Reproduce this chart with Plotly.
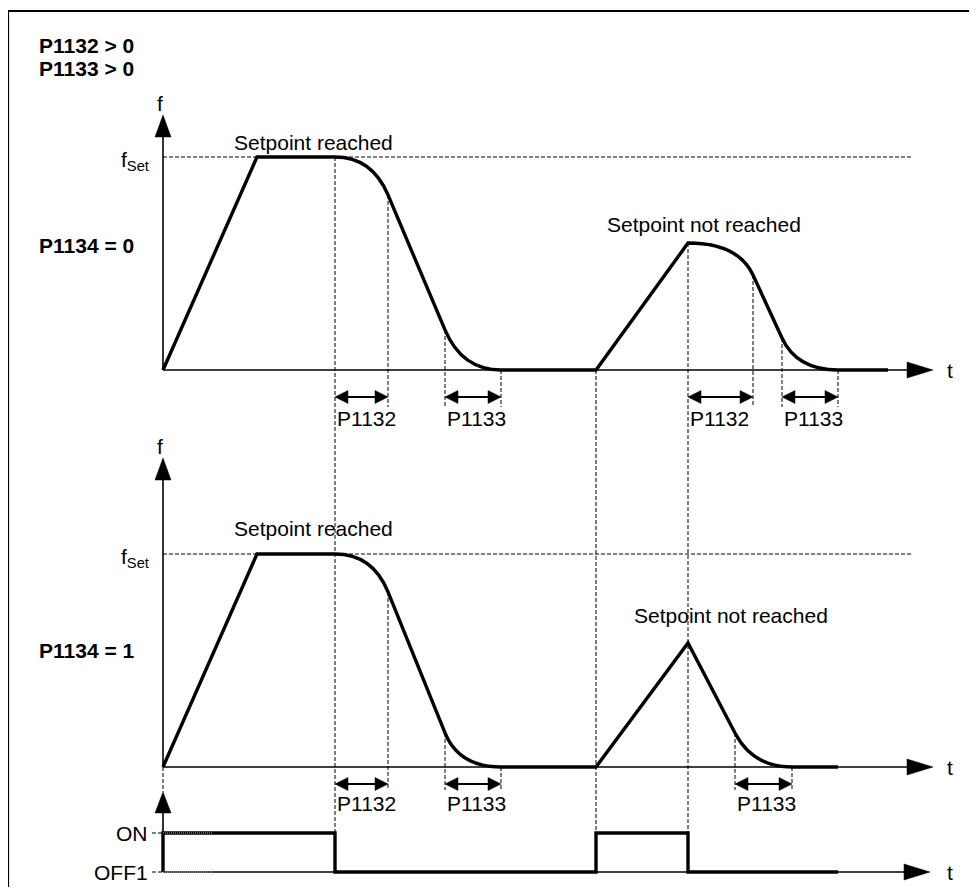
import plotly.graph_objects as go

OFS = 8  # page body margin: reference pixel p is drawn at figure pixel p - OFS
W, H = 977 - 2 * OFS, 895 - 2 * OFS  # keep the page free of scrollbars

# ---------------- data ----------------
# time knots (arbitrary time units) and normalised frequency f/fSet
top_t = [0, 9.4, 17.2, 22.5, 28.2, 33.8, 43.3, 52.5, 59.0, 61.9, 67.5, 72.5]
top_f = [0, 1.0, 1.0, 0.822, 0.188, 0, 0, 0.596, 0.446, 0.150, 0, 0]
top_seg = ['L', 'L', 'R0', 'L', 'R1', 'L', 'L', 'R0', 'L', 'R1', 'L']

bot_t = [0, 9.4, 17.2, 22.5, 28.2, 33.8, 43.3, 52.5, 57.2, 62.9, 67.5]
bot_f = [0, 1.0, 1.0, 0.822, 0.160, 0, 0, 0.582, 0.160, 0, 0]
bot_seg = ['L', 'L', 'R0', 'L', 'R1', 'L', 'L', 'L', 'R1', 'L']

# ON / OFF1 command (1 = ON, 0 = OFF1)
cmd_t = [0, 0, 17.2, 43.3, 52.5, 67.5]
cmd_s = [0, 1, 0, 1, 0, 0]

# rounding intervals (knot index start, knot index end, label)
top_intervals = [(2, 3, 'P1132'), (4, 5, 'P1133'), (7, 8, 'P1132'), (9, 10, 'P1133')]
bot_intervals = [(2, 3, 'P1132'), (4, 5, 'P1133'), (8, 9, 'P1133')]

# ---------------- layout calibration (reference pixels) ----------------
X0_PX, PX_PER_T = 163, 10.0
AX = {'y': (370, 213.0), 'y2': (767, 213.0), 'y3': (872, 39.0)}  # base px, px per unit


def yr(k):
    b, s = AX[k]
    return [(b - (H + OFS)) / s, (b - OFS) / s]


def py2v(k, py):
    b, s = AX[k]
    return (b - py) / s


def v2v(v, src, dst):
    b, s = AX[src]
    return py2v(dst, b - v * s)


def px2t(px):
    return (px - X0_PX) / PX_PER_T


def pxp(px):
    return (px - OFS) / W


def pyp(py):
    return 1 - (py - OFS) / H


FONT = "Liberation Sans, Arial, sans-serif"
FS = 21
shapes, annos = [], []


def dline(x0, y0, x1, y1, yref, dash='4px,2px', width=1, color='black'):
    shapes.append(dict(type='line', xref='x', yref=yref, x0=x0, y0=y0, x1=x1, y1=y1,
                       line=dict(color=color, width=width, dash=dash), layer='above'))


def sline(x0, y0, x1, y1, yref, width=1.6):
    shapes.append(dict(type='line', xref='x', yref=yref, x0=x0, y0=y0, x1=x1, y1=y1,
                       line=dict(color='black', width=width), layer='above'))


def head(x, y, yref, direction, length, hw):
    if direction == 'right':
        p = f"M0,0 L{-length},{hw} L{-length},{-hw} Z"
    elif direction == 'left':
        p = f"M0,0 L{length},{hw} L{length},{-hw} Z"
    else:  # up
        p = f"M0,0 L{-hw},{-length} L{hw},{-length} Z"
    shapes.append(dict(type='path', xref='x', yref=yref, xsizemode='pixel', ysizemode='pixel',
                       xanchor=x, yanchor=y, path=p, fillcolor='black',
                       line=dict(color='black', width=0.5), layer='above'))


def curve_path(ts, fs, segs):
    d = f"M{ts[0]},{fs[0]}"
    for i, k in enumerate(segs):
        x0, y0, x1, y1 = ts[i], fs[i], ts[i + 1], fs[i + 1]
        if k == 'L':
            d += f" L{x1},{y1}"
        elif k == 'R0':
            m = (fs[i + 2] - fs[i + 1]) / (ts[i + 2] - ts[i + 1])
            cx = x1 + (y0 - y1) / m
            d += f" Q{cx},{y0} {x1},{y1}"
        else:
            m = (fs[i] - fs[i - 1]) / (ts[i] - ts[i - 1])
            cx = x0 + (y1 - y0) / m
            d += f" Q{cx},{y1} {x1},{y1}"
    return d


def text(px, py, s, anchor='left', size=FS, bold=False):
    annos.append(dict(xref='paper', yref='paper', x=pxp(px), y=pyp(py), text=(f"<b>{s}</b>" if bold else s),
                      showarrow=False, xanchor=anchor, yanchor='middle',
                      font=dict(family=FONT, size=size, color='black')))


# ---------------- frame ----------------
shapes.append(dict(type='line', xref='paper', yref='paper', x0=pxp(8), y0=pyp(11), x1=1, y1=pyp(11),
                   line=dict(color='black', width=2.2)))
shapes.append(dict(type='line', xref='paper', yref='paper', x0=pxp(8), y0=pyp(11), x1=pxp(8), y1=0,
                   line=dict(color='black', width=2.2)))

cmd_edges = set(cmd_t[1:-1])

# ---------------- frequency panels ----------------
panels = [
    ('y', top_t, top_f, top_seg, top_intervals, 115, 397, 418, 407, 142, 224, 605, 245, '0'),
    ('y2', bot_t, bot_f, bot_seg, bot_intervals, 458, 784, 803, 790, 528, 615, 632, 650, '1'),
]
for (yk, ts, fs, segs, ivs, tip_px, arr_px, lab_px, dash_end_px,
     sr_px, snr_px, snr_x, p1134_px, p1134) in panels:
    b, s = AX[yk]
    # f_Set dashed reference
    dline(0, 1, px2t(913), 1, yk)
    # axes
    sline(0, 0, 0, py2v(yk, tip_px + 10), yk)
    head(0, py2v(yk, tip_px), yk, 'up', 22, 8)
    sline(0, 0, px2t(915), 0, yk)
    head(px2t(933), 0, yk, 'right', 26, 8)
    # short dashed verticals + interval arrows
    for i0, i1, lab in ivs:
        for idx in (i0, i1):
            if ts[idx] not in cmd_edges:
                dline(ts[idx], fs[idx], ts[idx], py2v(yk, dash_end_px), yk)
        ya = py2v(yk, arr_px)
        sline(ts[i0] + 0.6, ya, ts[i1] - 0.6, ya, yk, width=2.2)
        head(ts[i0], ya, yk, 'left', 13, 6.5)
        head(ts[i1], ya, yk, 'right', 13, 6.5)
        annos.append(dict(xref='x', yref=yk, x=ts[i0], y=py2v(yk, lab_px), text=lab, showarrow=False,
                          xanchor='left', yanchor='middle', xshift=0,
                          font=dict(family=FONT, size=FS, color='black')))
    # curve
    shapes.append(dict(type='path', xref='x', yref=yk, path=curve_path(ts, fs, segs),
                       line=dict(color='black', width=3.4), layer='above'))
    # labels
    annos.append(dict(xref='paper', yref=yk, x=pxp(160), y=py2v(yk, tip_px - 12), text='f', showarrow=False,
                      xanchor='center', yanchor='middle', font=dict(family=FONT, size=FS, color='black')))
    annos.append(dict(xref='paper', yref=yk, x=pxp(151), y=py2v(yk, b - s + 4), text='f<sub>Set</sub>',
                      showarrow=False, xanchor='right', yanchor='middle',
                      font=dict(family=FONT, size=FS, color='black')))
    annos.append(dict(xref='x', yref=yk, x=px2t(945), y=0, text='t', showarrow=False,
                      xanchor='left', yanchor='middle', font=dict(family=FONT, size=FS, color='black')))
    text(232, sr_px, 'Setpoint reached')
    text(snr_x, snr_px, 'Setpoint not reached')
    text(37, p1134_px, f'P1134 = {p1134}', bold=True)

# ---------------- long dashed command lines ----------------
for idx in (2, 6, 7):
    dline(top_t[idx], v2v(top_f[idx], 'y', 'y3'), top_t[idx], 1, 'y3')
dline(0, v2v(0, 'y2', 'y3'), 0, py2v('y3', 792), 'y3')

# ---------------- ON / OFF1 panel ----------------
sline(0, 0, 0, py2v('y3', 802), 'y3')
head(0, py2v('y3', 792), 'y3', 'up', 21, 8)
sline(0, 0, px2t(910), 0, 'y3')
head(px2t(930), 0, 'y3', 'right', 26, 8)
for lvl in (0, 1):
    dline(px2t(152), lvl, 0, lvl, 'y3')
    dline(0, lvl, px2t(213), lvl, 'y3', dash='1px,1px', color='#b0b0b0')
annos.append(dict(xref='paper', yref='y3', x=pxp(150), y=1, text='ON', showarrow=False, xanchor='right',
                  yanchor='middle', font=dict(family=FONT, size=FS, color='black')))
annos.append(dict(xref='paper', yref='y3', x=pxp(150), y=0, text='OFF1', showarrow=False, xanchor='right',
                  yanchor='middle', font=dict(family=FONT, size=FS, color='black')))
annos.append(dict(xref='x', yref='y3', x=px2t(945), y=0, text='t', showarrow=False,
                  xanchor='left', yanchor='middle', font=dict(family=FONT, size=FS, color='black')))

# header
text(37, 45, 'P1132 &gt; 0', bold=True)
text(37, 68, 'P1133 &gt; 0', bold=True)

fig = go.Figure()
fig.add_trace(go.Scatter(x=[], y=[], xaxis='x', yaxis='y', showlegend=False, hoverinfo='skip'))
fig.add_trace(go.Scatter(x=[], y=[], xaxis='x', yaxis='y2', showlegend=False, hoverinfo='skip'))
fig.add_trace(go.Scatter(x=cmd_t, y=cmd_s, xaxis='x', yaxis='y3', mode='lines', line_shape='hv',
                         line=dict(color='black', width=3.4), showlegend=False, hoverinfo='skip'))

axcommon = dict(visible=False, showgrid=False, zeroline=False, fixedrange=True)
fig.update_layout(
    width=W, height=H, margin=dict(l=0, r=0, t=0, b=0),
    paper_bgcolor='white', plot_bgcolor='white', showlegend=False,
    xaxis=dict(range=[px2t(OFS), px2t(W + OFS)], domain=[0, 1], **axcommon),
    yaxis=dict(range=yr('y'), domain=[0, 1], **axcommon),
    yaxis2=dict(range=yr('y2'), overlaying='y', **axcommon),
    yaxis3=dict(range=yr('y3'), overlaying='y', **axcommon),
    shapes=shapes, annotations=annos,
)
fig.write_html("out.html", default_width=f"{W}px", default_height=f"{H}px",
               config={'displayModeBar': False},
               post_script="document.documentElement.style.overflow='hidden';"
                           "document.body.style.overflow='hidden';")
